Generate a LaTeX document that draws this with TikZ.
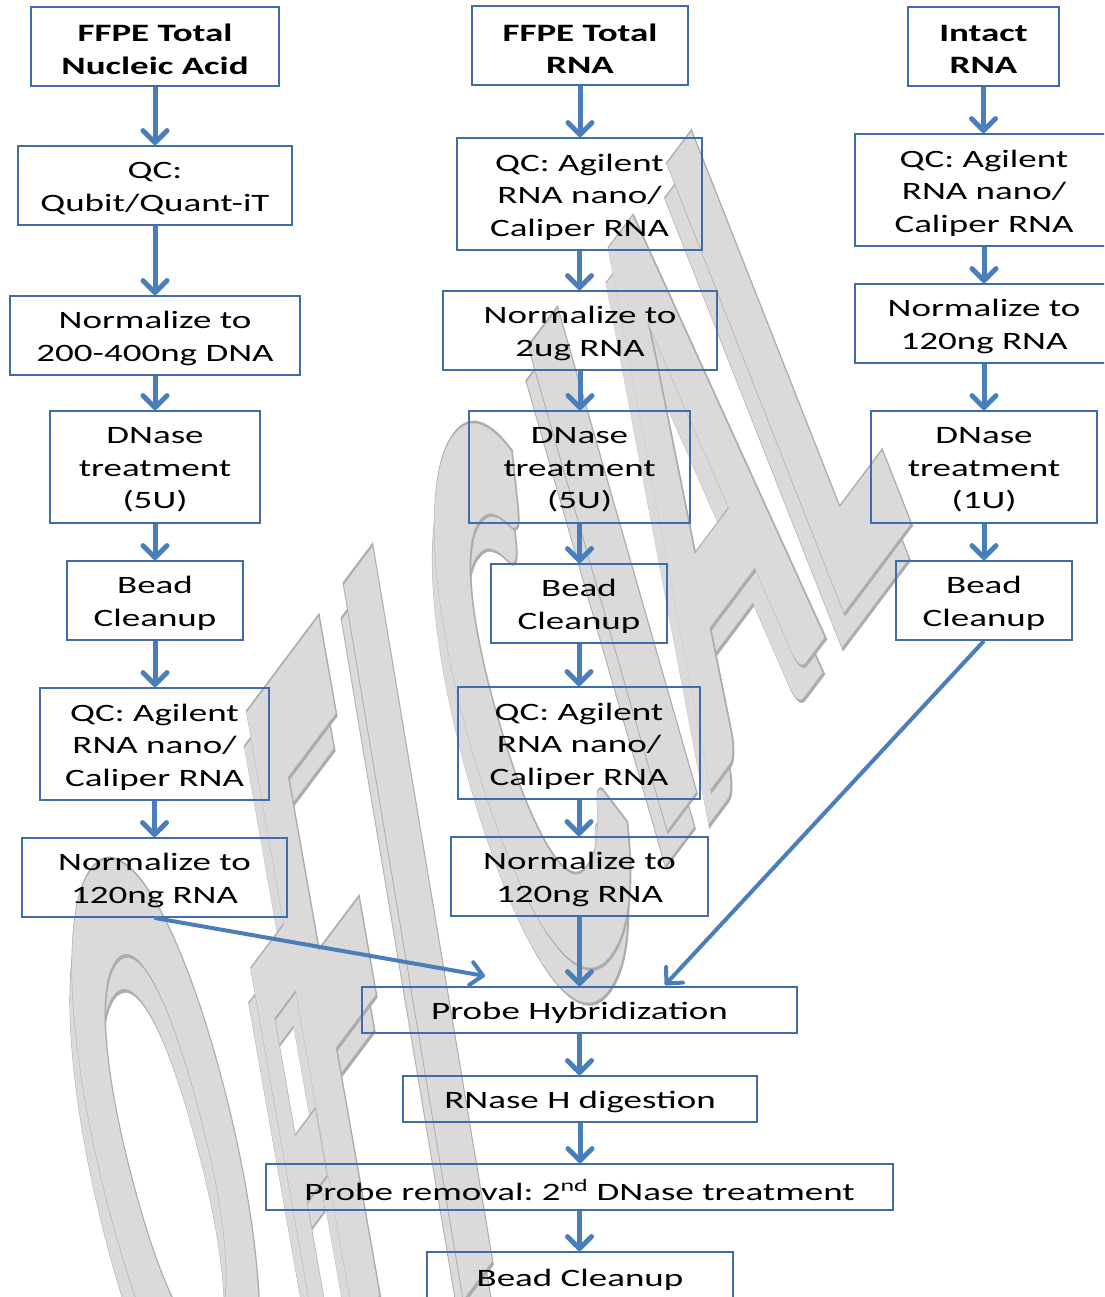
\documentclass[tikz,border=0pt]{standalone}
\usepackage{fontspec}
\setmainfont{Carlito}[FakeStretch=1.48]
\newfontfamily\wmfont{Carlito}
\newfontfamily\wmfontS{Carlito}[BoldFeatures={FakeBold=0.7}]
\usetikzlibrary{arrows.meta}
\definecolor{boxc}{RGB}{62,108,172}
\definecolor{arrc}{RGB}{74,126,187}
\definecolor{wmfill}{RGB}{218,218,218}
\definecolor{wmline}{RGB}{172,172,172}
% one watermark letter: #1,#2 top-left (px), #3,#4 up-vector per em, #5 width factor, #6 letter
\newcommand\wmL[6]{%
  \pgfmathsetmacro\wmox{#1-0.644*(#3)-12*#5+\wmdx}%
  \pgfmathsetmacro\wmoy{#2+0.644*(#4)+16*#5+\wmdy}%
  \begin{scope}[shift={(\wmox,\wmoy)}, cm={1.72*#5,2.29*#5,(#3)/100,(#4)/100,(0,0)}]
    \node[transform shape, anchor=base west, inner sep=0pt, outer sep=0pt,
      text=\wmcol, font=\wmfnt] (wm) at (0,0) {#6};
  \end{scope}}
\newcommand\wmpass[4]{%
  \def\wmdx{#1}\def\wmdy{#2}\def\wmfnt{#3}\def\wmcol{#4}%
  \wmL{48}{942}{-224.4}{830}{1}{O}%
  \wmL{253}{970}{-113}{642}{0.55}{F}%
  \wmL{251}{713}{-167.5}{948.3}{1.1}{F}%
  \wmL{345}{590}{-184.5}{1102.5}{1.3}{I}%
  \wmL{411}{506}{-239}{782}{1.1}{C}%
  \wmL{530}{350}{-214}{746}{1.3}{I}%
  \wmL{578}{295}{-227}{742}{1.1}{A}%
  \wmL{672}{163}{-273}{692.5}{1.1}{L}}
\tikzset{
  frame/.style={draw=boxc, line width=1.8pt, inner sep=0pt},
  txt/.style={inner sep=0pt, align=center, font=\fontsize{25}{32.5}\selectfont},
  ttxt/.style={txt, font=\fontsize{25}{32.5}\selectfont\bfseries},
  arr/.style={draw=arrc, line width=5pt,
    -{Straight Barb[length=12pt,width=24pt,line cap=round,line join=round]}},
  darr/.style={draw=arrc, line width=4pt,
    -{Straight Barb[length=12pt,width=23pt,line cap=round,line join=round]}}
}
% box: #1 text style, #2 name, #3,#4 centre, #5 width, #6 height, #7 text
\newcommand\bx[7]{%
  \node[frame, minimum width=#5, minimum height=#6] (#2) at (#3,#4) {};
  \node[#1] (#2t) at ([yshift=-3pt]#2.center) {#7};}
\begin{document}
\frenchspacing
\begin{tikzpicture}[x=1pt,y=-1pt]
\useasboundingbox (0,0) rectangle (1104,1297);
\clip (0,0) rectangle (1104,1297);
% watermark (shadow copy, then front copy)
\wmpass{-2}{35}{\wmfontS\bfseries\fontsize{100}{100}\selectfont}{wmline}
\wmpass{-2}{35}{\wmfont\bfseries\fontsize{100}{100}\selectfont}{wmfill}
\wmpass{0}{0}{\wmfontS\bfseries\fontsize{100}{100}\selectfont}{wmline}
\wmpass{0}{0}{\wmfont\bfseries\fontsize{100}{100}\selectfont}{wmfill}
% column 1
\bx{ttxt}{a1}{155}{46.5}{248}{79}{FFPE Total\\Nucleic Acid}
\bx{txt}{a2}{155}{185.5}{274}{79}{QC:\\Qubit/Quant-iT}
\bx{txt}{a3}{155}{335.5}{290}{79}{Normalize to\\200-400ng DNA}
\bx{txt}{a4}{155}{467}{210}{112}{DNase\\treatment\\(5U)}
\bx{txt}{a5}{155}{600.5}{176}{79}{Bead\\Cleanup}
\bx{txt}{a6}{154.5}{744}{229}{112}{QC: Agilent\\RNA nano/\\Caliper RNA}
\bx{txt}{a7}{154.5}{877.5}{265}{79}{Normalize to\\120ng RNA}
% column 2
\bx{ttxt}{b1}{580}{45.5}{216}{79}{FFPE Total\\RNA}
\bx{txt}{b2}{579.5}{194}{245}{112}{QC: Agilent\\RNA nano/\\Caliper RNA}
\bx{txt}{b3}{580}{330.5}{274}{79}{Normalize to\\2ug RNA}
\bx{txt}{b4}{579.5}{467}{221}{112}{DNase\\treatment\\(5U)}
\bx{txt}{b5}{579}{603.5}{176}{79}{Bead\\Cleanup}
\bx{txt}{b6}{579}{743}{242}{112}{QC: Agilent\\RNA nano/\\Caliper RNA}
\bx{txt}{b7}{579.5}{876.5}{257}{79}{Normalize to\\120ng RNA}
% column 3
\bx{ttxt}{c1}{983.5}{46.5}{151}{79}{Intact\\RNA}
\bx{txt}{c2}{984}{190}{258}{112}{QC: Agilent\\RNA nano/\\Caliper RNA}
\bx{txt}{c3}{984}{323.5}{258}{79}{Normalize to\\120ng RNA}
\bx{txt}{c4}{984}{467}{226}{112}{DNase\\treatment\\(1U)}
\bx{txt}{c5}{984}{600.5}{176}{79}{Bead\\Cleanup}
% bottom
\bx{txt}{d1}{579.5}{1010}{435}{46}{Probe Hybridization}
\bx{txt}{d2}{580}{1099}{354}{46}{RNase H digestion}
\bx{txt}{d3}{579.5}{1187}{627}{46}{Probe removal: 2\textsuperscript{nd} DNase treatment}
\bx{txt}{d4}{580}{1277}{306}{50}{Bead Cleanup}
% arrows
\foreach \u/\v in {a1/a2,a2/a3,a3/a4,a4/a5,a5/a6,a6/a7,
                   b1/b2,b2/b3,b3/b4,b4/b5,b5/b6,b6/b7,b7/d1,
                   c1/c2,c2/c3,c3/c4,c4/c5,d1/d2,d2/d3,d3/d4}
  \draw[arr] (\u.south) -- (\u.south |- \v.north);
\coordinate (tl) at (485,976);
\coordinate (tr) at (665,985);
\draw[darr] (a7.south) -- (tl);
\draw[darr] (c5.south) -- (tr);
\end{tikzpicture}
\end{document}
